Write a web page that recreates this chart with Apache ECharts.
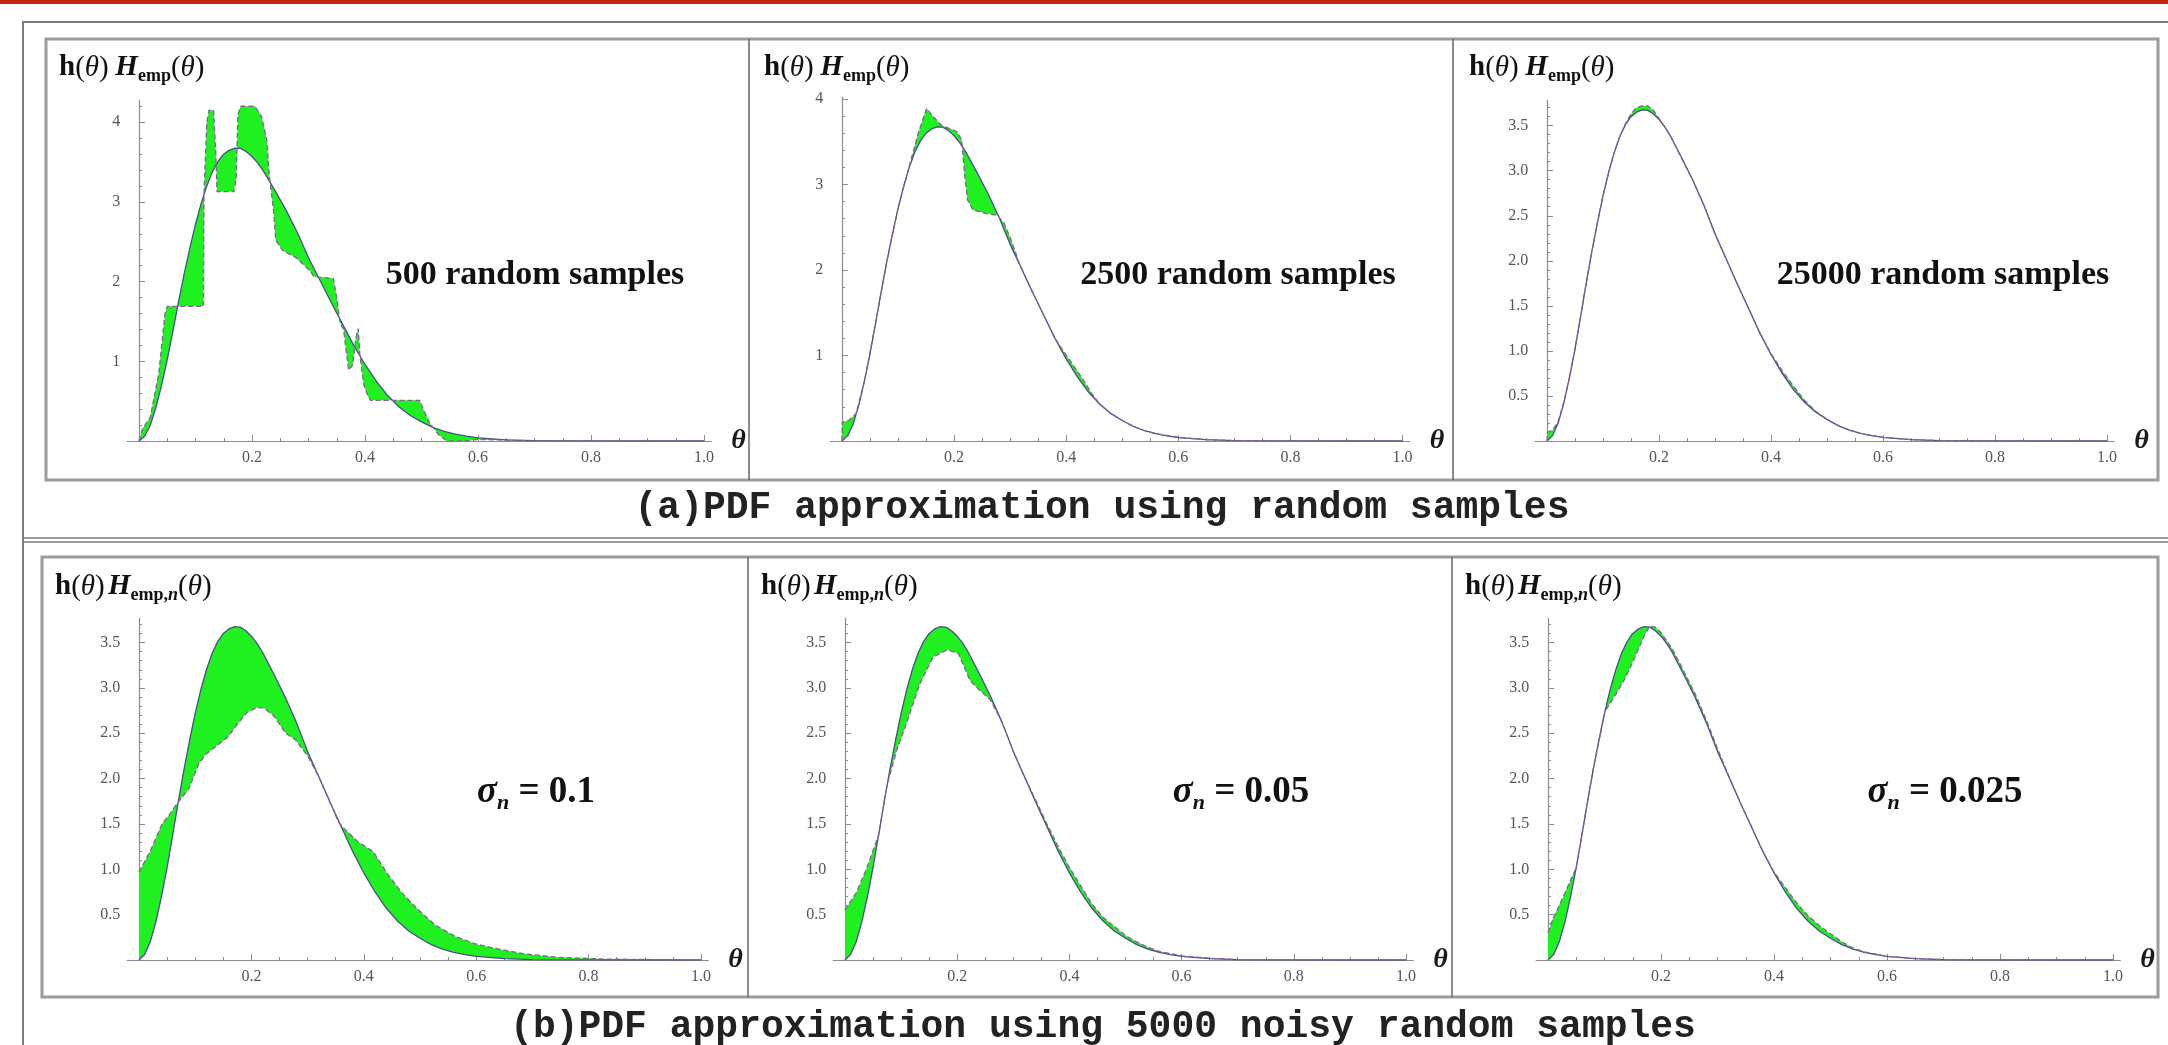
<!DOCTYPE html>
<html>
<head>
<meta charset="utf-8">
<script src="https://cdn.jsdelivr.net/npm/echarts@6.0.0/dist/echarts.min.js"></script>
<style>
  html, body { margin: 0; padding: 0; background: #fff; }
  #main { width: 2168px; height: 1045px; }
</style>
</head>
<body>
<div id="main"></div>
<script>
// true pdf h(theta), shared by all six panels
const thetaH = [0, 0.01, 0.02, 0.03, 0.04, 0.05, 0.06, 0.07, 0.08, 0.09, 0.10, 0.11, 0.12, 0.13, 0.14, 0.15, 0.16, 0.17, 0.18, 0.19, 0.20, 0.21, 0.22,
  0.24, 0.26, 0.28, 0.30, 0.32, 0.34, 0.36, 0.38, 0.40, 0.42, 0.44, 0.46, 0.48, 0.50, 0.52, 0.54, 0.56, 0.58, 0.60,
  0.65, 0.70, 0.80, 0.90, 1.00];
const hTrue = [0, 0.06, 0.2, 0.42, 0.7, 1.02, 1.38, 1.75, 2.1, 2.42, 2.72, 2.98, 3.2, 3.38, 3.51, 3.6, 3.65, 3.675, 3.67, 3.63, 3.57, 3.49, 3.39,
  3.15, 2.9, 2.62, 2.3, 2.02, 1.74, 1.47, 1.2, 0.96, 0.75, 0.57, 0.43, 0.32, 0.24, 0.17, 0.12, 0.085, 0.06, 0.04,
  0.015, 0.005, 0.001, 0, 0];

// (a) empirical estimates from random samples
const theta500 = [0, 0.006, 0.02, 0.035, 0.046, 0.05, 0.114, 0.115, 0.12, 0.124, 0.132, 0.136, 0.138, 0.168, 0.172, 0.175, 0.18, 0.205, 0.217, 0.226,
  0.231, 0.238, 0.242, 0.254, 0.278, 0.302, 0.31, 0.344, 0.35, 0.356, 0.362, 0.371, 0.378, 0.384, 0.388, 0.391, 0.398, 0.406, 0.41, 0.497,
  0.503, 0.515, 0.53, 0.545, 0.58, 0.6, 0.65, 0.7, 1.0];
const emp500 = [0, 0.15, 0.3, 0.85, 1.6, 1.69, 1.69, 3.1, 4.0, 4.15, 4.15, 3.6, 3.13, 3.13, 3.3, 4.1, 4.2, 4.2, 4.07, 3.78,
  3.3, 2.9, 2.52, 2.39, 2.3, 2.14, 2.06, 2.04, 1.8, 1.48, 1.4, 0.89, 0.95, 1.3, 1.41, 1.07, 0.7, 0.55, 0.51, 0.51,
  0.4, 0.22, 0.08, 0, 0, 0.02, 0.01, 0, 0];

const theta2500 = [0, 0.0005, 0.012, 0.025, 0.04, 0.06, 0.08, 0.1, 0.121, 0.136, 0.151, 0.163, 0.178, 0.19, 0.205, 0.2135, 0.219, 0.224, 0.234, 0.258,
  0.277, 0.289, 0.3, 0.318, 0.34, 0.36, 0.38, 0.39, 0.41, 0.43, 0.445, 0.46, 0.48, 0.5, 0.52, 0.54, 0.56, 0.6, 0.65, 0.7, 0.8, 1.0];
const emp2500 = [0, 0.22, 0.24, 0.32, 0.7, 1.38, 2.1, 2.72, 3.24, 3.6, 3.89, 3.79, 3.69, 3.66, 3.62, 3.52, 3.1, 2.82, 2.7, 2.66,
  2.64, 2.55, 2.38, 2.05, 1.74, 1.47, 1.2, 1.1, 0.91, 0.72, 0.56, 0.43, 0.32, 0.24, 0.17, 0.12, 0.085, 0.045, 0.015, 0.005, 0, 0];

const theta25000 = [0, 0.001, 0.01, 0.02, 0.03, 0.04, 0.05, 0.06, 0.07, 0.08, 0.09, 0.1, 0.11, 0.12, 0.13, 0.14, 0.15, 0.16, 0.17, 0.18, 0.19, 0.2, 0.21, 0.22,
  0.24, 0.26, 0.28, 0.3, 0.32, 0.34, 0.36, 0.38, 0.4, 0.42, 0.44, 0.46, 0.48, 0.5, 0.52, 0.54, 0.56, 0.58, 0.6, 0.65, 0.7, 0.8, 1.0];
const emp25000 = [0, 0.1, 0.12, 0.22, 0.43, 0.7, 1.02, 1.38, 1.75, 2.1, 2.42, 2.72, 2.98, 3.2, 3.38, 3.52, 3.63, 3.7, 3.72, 3.72, 3.67, 3.58, 3.49, 3.39,
  3.14, 2.9, 2.62, 2.3, 2.02, 1.74, 1.47, 1.2, 0.97, 0.78, 0.61, 0.45, 0.33, 0.24, 0.17, 0.12, 0.085, 0.06, 0.04, 0.015, 0.005, 0, 0];

// (b) empirical estimates from 5000 noisy samples
const thetaN10 = [0, 0.02, 0.041, 0.054, 0.067, 0.089, 0.106, 0.119, 0.14, 0.158, 0.175, 0.192, 0.209, 0.222, 0.24, 0.261, 0.278, 0.3, 0.32, 0.34,
  0.355, 0.365, 0.39, 0.416, 0.442, 0.468, 0.494, 0.528, 0.563, 0.597, 0.632, 0.684, 0.744, 0.83, 1.0];
const empN10 = [0.97, 1.2, 1.5, 1.6, 1.72, 1.89, 2.16, 2.27, 2.37, 2.46, 2.6, 2.73, 2.78, 2.78, 2.69, 2.5, 2.43, 2.25, 2.02, 1.74,
  1.52, 1.45, 1.3, 1.2, 0.95, 0.74, 0.57, 0.38, 0.26, 0.18, 0.13, 0.07, 0.03, 0.01, 0];

const thetaN05 = [0, 0.02, 0.038, 0.06, 0.075, 0.092, 0.108, 0.133, 0.157, 0.182, 0.202, 0.223, 0.239, 0.259, 0.28, 0.3, 0.32, 0.34, 0.36, 0.38,
  0.4, 0.42, 0.44, 0.46, 0.5, 0.52, 0.54, 0.56, 0.6, 0.65, 0.7, 0.8, 1.0];
const empN05 = [0.55, 0.74, 1.0, 1.38, 1.93, 2.31, 2.58, 3.04, 3.34, 3.42, 3.38, 3.08, 2.98, 2.87, 2.62, 2.3, 2.02, 1.76, 1.5, 1.25,
  1.02, 0.82, 0.62, 0.47, 0.27, 0.2, 0.14, 0.095, 0.045, 0.02, 0.005, 0, 0];

const thetaN025 = [0, 0.01, 0.03, 0.05, 0.06, 0.08, 0.1, 0.104, 0.121, 0.137, 0.154, 0.17, 0.18, 0.19, 0.2, 0.22, 0.24, 0.26, 0.28, 0.3,
  0.32, 0.34, 0.36, 0.38, 0.4, 0.42, 0.44, 0.46, 0.48, 0.5, 0.52, 0.54, 0.56, 0.6, 0.65, 0.7, 0.8, 1.0];
const empN025 = [0.3, 0.47, 0.74, 1.02, 1.38, 2.1, 2.72, 2.77, 2.94, 3.11, 3.34, 3.57, 3.68, 3.67, 3.61, 3.43, 3.19, 2.94, 2.65, 2.33,
  2.03, 1.74, 1.47, 1.2, 0.97, 0.8, 0.63, 0.49, 0.38, 0.29, 0.2, 0.13, 0.09, 0.04, 0.015, 0.005, 0, 0];

// ticks and texts
const xMajorTicks = [0, 0.2, 0.4, 0.6, 0.8, 1.0];
const xLabelTicks = [0.2, 0.4, 0.6, 0.8, 1.0];
const xMinorTicks = [0.05, 0.1, 0.15, 0.25, 0.3, 0.35, 0.45, 0.5, 0.55, 0.65, 0.7, 0.75, 0.85, 0.9, 0.95];
const yLabelsInt = [1, 2, 3, 4];
const yLabelsHalf = [0.5, 1.0, 1.5, 2.0, 2.5, 3.0, 3.5];
const sampleNotes = ['500 random samples', '2500 random samples', '25000 random samples'];
const sigmaNotes = ['0.1', '0.05', '0.025'];
const captionA = '(a)PDF approximation using random samples';
const captionB = '(b)PDF approximation using 5000 noisy random samples';

const GREEN = '#1ff01f';
const SERIF = '"Liberation Serif", "DejaVu Serif", serif';
const MONO = '"Liberation Mono", "DejaVu Sans Mono", monospace';

// panel placement: origin pixel, px per unit theta, px per unit h, top of y axis
const panels = [
  { th: theta500, emp: emp500, x0: 139, ux: 565, y0: 441, uy: 79.7, ymax: 4.27, yl: yLabelsInt, ystep: 0.2 },
  { th: theta2500, emp: emp2500, x0: 842, ux: 560.5, y0: 441, uy: 85.5, ymax: 4.02, yl: yLabelsInt, ystep: 0.2 },
  { th: theta25000, emp: emp25000, x0: 1547, ux: 560, y0: 441, uy: 90.1, ymax: 3.78, yl: yLabelsHalf, ystep: 0.1 },
  { th: thetaN10, emp: empN10, x0: 139, ux: 562, y0: 960, uy: 90.7, ymax: 3.77, yl: yLabelsHalf, ystep: 0.1 },
  { th: thetaN05, emp: empN05, x0: 845, ux: 561, y0: 960, uy: 90.7, ymax: 3.77, yl: yLabelsHalf, ystep: 0.1 },
  { th: thetaN025, emp: empN025, x0: 1548, ux: 565, y0: 960, uy: 90.7, ymax: 3.77, yl: yLabelsHalf, ystep: 0.1 }
];
const XMIN = -0.021, XMAX = 1.013;

const grids = [], xAxes = [], yAxes = [], series = [];
const axisGray = '#8c8c8c';
const labelStyle = { fontFamily: SERIF, fontSize: 16, color: '#555' };

panels.forEach((p, i) => {
  grids.push({
    left: p.x0 + XMIN * p.ux,
    width: (XMAX - XMIN) * p.ux,
    top: p.y0 - p.ymax * p.uy,
    height: p.ymax * p.uy,
    outerBoundsMode: 'none'
  });

  const yMajor = [0].concat(p.yl);
  const yMinor = [];
  for (let v = p.ystep; v < p.ymax; v += p.ystep) {
    const r = Math.round(v * 100) / 100;
    if (!yMajor.some(m => Math.abs(m - r) < 1e-6)) yMinor.push(r);
  }

  xAxes.push({
    type: 'value', gridIndex: i, min: XMIN, max: XMAX, position: 'bottom',
    axisLine: { onZero: true, lineStyle: { color: axisGray, width: 1.2 } },
    axisTick: { inside: true, length: 6, customValues: xMajorTicks, lineStyle: { color: axisGray } },
    axisLabel: { customValues: xLabelTicks, margin: 9, formatter: v => v.toFixed(1), ...labelStyle },
    splitLine: { show: false },
    name: 'θ', nameLocation: 'end', nameGap: 20,
    nameTextStyle: { fontFamily: SERIF, fontStyle: 'italic', fontWeight: 'bold', fontSize: 28, color: '#1a1a1a' }
  });
  xAxes.push({
    type: 'value', gridIndex: i, min: XMIN, max: XMAX, position: 'bottom',
    axisLine: { show: false },
    axisTick: { inside: true, length: 3, customValues: xMinorTicks, lineStyle: { color: axisGray } },
    axisLabel: { show: false },
    splitLine: { show: false }
  });

  yAxes.push({
    type: 'value', gridIndex: i, min: 0, max: p.ymax, position: 'left',
    axisLine: { show: true, onZero: true, lineStyle: { color: axisGray, width: 1.2 } },
    axisTick: { show: true, inside: true, length: 6, customValues: yMajor, lineStyle: { color: axisGray } },
    axisLabel: {
      customValues: p.yl, margin: 7,
      formatter: v => (p.ystep < 0.15 ? v.toFixed(1) : String(v)), ...labelStyle
    },
    splitLine: { show: false }
  });
  yAxes.push({
    type: 'value', gridIndex: i, min: 0, max: p.ymax, position: 'left',
    axisLine: { show: false, onZero: true },
    axisTick: { show: true, inside: true, length: 3, customValues: yMinor, lineStyle: { color: axisGray } },
    axisLabel: { show: false },
    splitLine: { show: false }
  });

  // green band between h and the empirical estimate
  series.push({
    type: 'custom', xAxisIndex: 2 * i, yAxisIndex: 2 * i, data: [[0, 0]], silent: true, z: 1,
    renderItem: (params, api) => {
      const pts = [];
      for (let k = 0; k < thetaH.length; k++) pts.push(api.coord([thetaH[k], hTrue[k]]));
      for (let k = p.th.length - 1; k >= 0; k--) pts.push(api.coord([p.th[k], p.emp[k]]));
      return { type: 'polygon', shape: { points: pts }, style: { fill: GREEN, stroke: null } };
    }
  });
  series.push({
    type: 'line', xAxisIndex: 2 * i, yAxisIndex: 2 * i, z: 3,
    data: thetaH.map((t, k) => [t, hTrue[k]]),
    showSymbol: false, symbol: 'none', smooth: false,
    lineStyle: { color: '#4a4f86', width: 1.3 }
  });
  series.push({
    type: 'line', xAxisIndex: 2 * i, yAxisIndex: 2 * i, z: 4,
    data: p.th.map((t, k) => [t, p.emp[k]]),
    showSymbol: false, symbol: 'none', smooth: false,
    lineStyle: { color: '#8a5c9e', width: 1.3, type: [5, 3] }
  });
});

// label styles
const base = { fontFamily: SERIF, fill: '#111', lineHeight: 34 };
const richTop = {
  b: { ...base, fontSize: 29, fontWeight: 'bold' },
  n: { ...base, fontSize: 29 },
  i: { ...base, fontSize: 29, fontStyle: 'italic' },
  bi: { ...base, fontSize: 29, fontStyle: 'italic', fontWeight: 'bold' },
  s: { fontFamily: SERIF, fill: '#111', fontSize: 18, fontWeight: 'bold', lineHeight: 16, verticalAlign: 'bottom' },
  si: { fontFamily: SERIF, fill: '#111', fontSize: 18, fontWeight: 'bold', fontStyle: 'italic', lineHeight: 16, verticalAlign: 'bottom' }
};
const richSigma = {
  g: { fontFamily: SERIF, fill: '#111', fontSize: 37, fontStyle: 'italic', fontWeight: 'bold', lineHeight: 44 },
  sn: { fontFamily: SERIF, fill: '#111', fontSize: 22, fontStyle: 'italic', fontWeight: 'bold', lineHeight: 20, verticalAlign: 'bottom' },
  t: { fontFamily: SERIF, fill: '#111', fontSize: 37, fontWeight: 'bold', lineHeight: 44 }
};

const graphics = [
  { type: 'rect', shape: { x: 0, y: 0, width: 2168, height: 4 }, style: { fill: '#c6220e' } },
  { type: 'rect', shape: { x: 23, y: 22, width: 2300, height: 1200 }, style: { fill: 'none', stroke: '#7a7a7a', lineWidth: 2 } },
  { type: 'rect', shape: { x: 46, y: 39, width: 2112, height: 441 }, style: { fill: 'none', stroke: '#9c9c9c', lineWidth: 3 } },
  { type: 'line', shape: { x1: 749, y1: 39, x2: 749, y2: 480 }, style: { stroke: '#666', lineWidth: 1.5 } },
  { type: 'line', shape: { x1: 1453, y1: 39, x2: 1453, y2: 480 }, style: { stroke: '#666', lineWidth: 1.5 } },
  { type: 'line', shape: { x1: 23, y1: 538, x2: 2168, y2: 538 }, style: { stroke: '#7a7a7a', lineWidth: 1.5 } },
  { type: 'line', shape: { x1: 23, y1: 542, x2: 2168, y2: 542 }, style: { stroke: '#7a7a7a', lineWidth: 1.5 } },
  { type: 'rect', shape: { x: 42, y: 557, width: 2116, height: 440 }, style: { fill: 'none', stroke: '#9c9c9c', lineWidth: 3 } },
  { type: 'line', shape: { x1: 748, y1: 557, x2: 748, y2: 997 }, style: { stroke: '#666', lineWidth: 1.5 } },
  { type: 'line', shape: { x1: 1452, y1: 557, x2: 1452, y2: 997 }, style: { stroke: '#666', lineWidth: 1.5 } },
  { type: 'text', x: 1102, y: 508, style: { text: captionA, fontFamily: MONO, fontWeight: 'bold', fontSize: 38, fill: '#222', align: 'center', verticalAlign: 'middle' } },
  { type: 'text', x: 1103, y: 1027, style: { text: captionB, fontFamily: MONO, fontWeight: 'bold', fontSize: 38, fill: '#222', align: 'center', verticalAlign: 'middle' } }
];

const topA = [59, 764, 1469], topB = [55, 761, 1465];
topA.forEach(x => graphics.push({
  type: 'text', x: x, y: 68,
  style: { text: '{b|h}{n|(}{i|θ}{n|)}  {bi|H}{s|emp}{n|(}{i|θ}{n|)}', verticalAlign: 'middle', rich: richTop }
}));
topB.forEach(x => graphics.push({
  type: 'text', x: x, y: 587,
  style: { text: '{b|h}{n|(}{i|θ}{n|)} {bi|H}{s|emp,}{si|n}{n|(}{i|θ}{n|)}', verticalAlign: 'middle', rich: richTop }
}));

const noteX = [535, 1238, 1943], sigmaX = [536, 1241, 1945];
sampleNotes.forEach((t, k) => graphics.push({
  type: 'text', x: noteX[k], y: 275,
  style: { text: t, fontFamily: SERIF, fontWeight: 'bold', fontSize: 34, fill: '#111', align: 'center', verticalAlign: 'middle' }
}));
sigmaNotes.forEach((t, k) => graphics.push({
  type: 'text', x: sigmaX[k], y: 792,
  style: { text: '{g|σ}{sn|n}{t| = ' + t + '}', align: 'center', verticalAlign: 'middle', rich: richSigma }
}));

const chart = echarts.init(document.getElementById('main'));
chart.setOption({
  animation: false,
  backgroundColor: '#ffffff',
  grid: grids,
  xAxis: xAxes,
  yAxis: yAxes,
  series: series,
  graphic: graphics
});
</script>
</body>
</html>
